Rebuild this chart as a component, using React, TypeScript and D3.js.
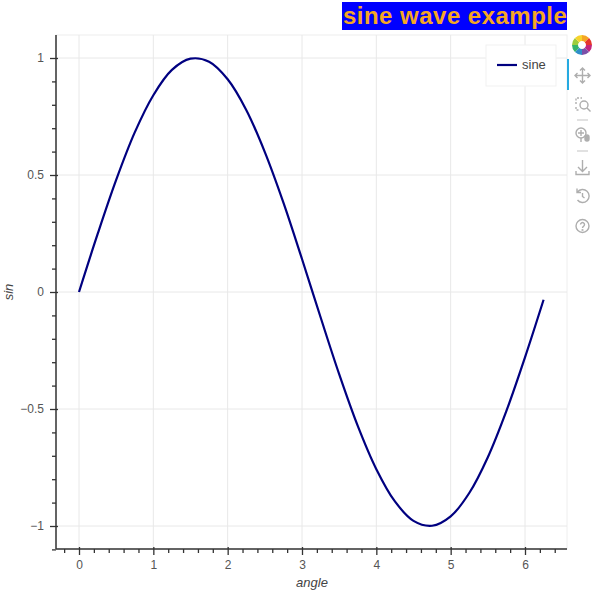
import React, { useEffect, useRef } from 'react';
import * as d3 from 'd3';

const angles = [0, 0.25, 0.5, 0.75, 1, 1.25, 1.5, 1.75, 2, 2.25, 2.5, 2.75, 3, 3.25, 3.5, 3.75, 4, 4.25, 4.5, 4.75, 5, 5.25, 5.5, 5.75, 6, 6.25];
const sines = [0, 0.247, 0.479, 0.682, 0.841, 0.949, 0.997, 0.984, 0.909, 0.778, 0.598, 0.382, 0.141, -0.108, -0.351, -0.572, -0.757, -0.895, -0.978, -0.999, -0.959, -0.859, -0.706, -0.508, -0.279, -0.033];
const xTicks = [0, 1, 2, 3, 4, 5, 6];
const yTicks = [-1, -0.5, 0, 0.5, 1];
const xMinor = d3.range(-0.2, 6.5, 0.2).filter(d => Math.abs(d - Math.round(d)) > 0.01);
const yMinor = d3.range(-1.1, 1.05, 0.1).filter(d => Math.abs(d * 2 - Math.round(d * 2)) > 0.01);
const logoColors = ['#f5a623', '#e5352c', '#c2247d', '#7b4fa8', '#2f8fc9', '#34b36b', '#9ccc3c', '#f7d32c'];

const left = 56;
const right = 567;
const top = 35;
const bottom = 549;
const font = '"Liberation Sans", Arial, sans-serif';
const iconGray = '#aeaeae';

export default function App() {
  const xRef = useRef<SVGGElement>(null);
  const yRef = useRef<SVGGElement>(null);

  const x = d3.scaleLinear().domain([0, 6]).range([79, 525]);
  const y = d3.scaleLinear().domain([-1, 1]).range([526, 58]);

  const line = d3.line<number>()
    .x(d => x(d))
    .y((d, i) => y(sines[i]))
    .curve(d3.curveCatmullRom);

  useEffect(() => {
    const styleAxis = (g: any) => {
      g.select('.domain').remove();
      g.selectAll('line').attr('stroke', '#333').attr('stroke-width', 1.3);
      g.selectAll('text').attr('fill', '#555').attr('font-size', 12).attr('font-family', font);
    };

    const gx = d3.select(xRef.current);
    gx.selectAll('*').remove();
    gx.append('g').call(d3.axisBottom(x).tickValues(xTicks).tickSize(6).tickPadding(5).tickFormat(d3.format('~g'))).call(styleAxis)
      .selectAll('line').attr('y1', -2);
    gx.append('g').call(d3.axisBottom(x).tickValues(xMinor).tickSize(4).tickFormat(() => '')).call(styleAxis);
    gx.append('line').attr('x1', left).attr('x2', right).attr('stroke', '#333').attr('stroke-width', 1.5);

    const gy = d3.select(yRef.current);
    gy.selectAll('*').remove();
    gy.append('g').call(d3.axisLeft(y).tickValues(yTicks).tickSize(6).tickPadding(6).tickFormat(d3.format('~g'))).call(styleAxis)
      .selectAll('line').attr('x1', 2);
    gy.append('g').call(d3.axisLeft(y).tickValues(yMinor).tickSize(4).tickFormat(() => '')).call(styleAxis);
    gy.append('line').attr('y1', top).attr('y2', bottom).attr('stroke', '#333').attr('stroke-width', 1.5);
  }, []);

  return (
    <svg width={600} height={590} style={{ position: 'absolute', left: 0, top: 0, background: '#fff' }}>
      {/* title */}
      <rect x={342} y={2} width={225} height={28} fill="#0000ff" />
      <text x={343} y={24} fontFamily={font} fontWeight="bold" fontSize={24} letterSpacing={0.48} fill="#f5a623">sine wave example</text>

      {/* frame and grid */}
      <rect x={left} y={top} width={right - left} height={bottom - top} fill="none" stroke="#eeeeee" />
      {xTicks.map(d => <line key={d} x1={x(d)} x2={x(d)} y1={top} y2={bottom} stroke="#e8e8e8" />)}
      {yTicks.map(d => <line key={d} x1={left} x2={right} y1={y(d)} y2={y(d)} stroke="#e8e8e8" />)}

      <path d={line(angles) as string} fill="none" stroke="#000080" strokeWidth={2.2} />

      <g ref={xRef} transform={`translate(0,${bottom})`} />
      <g ref={yRef} transform={`translate(${left},0)`} />

      <text x={312} y={587} textAnchor="middle" fontFamily={font} fontStyle="italic" fontSize={13} fill="#444">angle</text>
      <text transform="translate(13,292) rotate(-90)" textAnchor="middle" fontFamily={font} fontStyle="italic" fontSize={13} fill="#444">sin</text>

      {/* legend */}
      <rect x={486} y={45} width={70} height={41} fill="#fff" stroke="#f1f1f1" />
      <line x1={497} x2={517} y1={65} y2={65} stroke="#000080" strokeWidth={2.2} />
      <text x={522} y={69} fontFamily={font} fontSize={13} fill="#444">sine</text>

      {/* toolbar */}
      <g transform="translate(582,45)">
        {logoColors.map((c, i) => (
          <path
            key={c}
            d={d3.arc()({ innerRadius: 4, outerRadius: 10, startAngle: (i * Math.PI) / 4, endAngle: ((i + 1) * Math.PI) / 4 }) as string}
            fill={c}
          />
        ))}
      </g>
      <line x1={568} x2={568} y1={59} y2={90} stroke="#26aae1" strokeWidth={2} />
      <g fill="none" stroke={iconGray} strokeWidth={1.4}>
        {/* pan */}
        <path d="M582.5 68v15M575 75.5h15M580 70.5l2.5-2.5 2.5 2.5M580 80.5l2.5 2.5 2.5-2.5M577.5 73l-2.5 2.5 2.5 2.5M587.5 73l2.5 2.5-2.5 2.5" />
        {/* box zoom */}
        <path d="M576 104v-6h6M576 107v3h3" strokeDasharray="2 1.5" />
        <circle cx={584} cy={105} r={4} />
        <path d="M587 108l3.5 3.5" />
        <line x1={577} x2={588} y1={120} y2={120} stroke="#d5d5d5" />
        {/* wheel zoom */}
        <circle cx={581} cy={133} r={5} />
        <path d="M581 130v6M578 133h6M581 138v4" />
        <rect x={585} y={135} width={4} height={6} rx={2} fill={iconGray} />
        <line x1={577} x2={588} y1={151} y2={151} stroke="#d5d5d5" />
        {/* save */}
        <path d="M582.5 160v11M578 167l4.5 4.5 4.5-4.5M576 171v3.5h13V171" />
        {/* reset */}
        <path d="M577.5 192a6.5 6.5 0 1 1 0 8M577 188.5v4h4M582.5 193v3.5l2 1.5" />
        {/* help */}
        <circle cx={582.5} cy={226} r={6.5} />
        <path d="M580.5 224.5a2 2 0 1 1 3 1.8c-.7.4-1 .8-1 1.7" />
        <circle cx={582.5} cy={230} r={0.4} />
      </g>
    </svg>
  );
}
